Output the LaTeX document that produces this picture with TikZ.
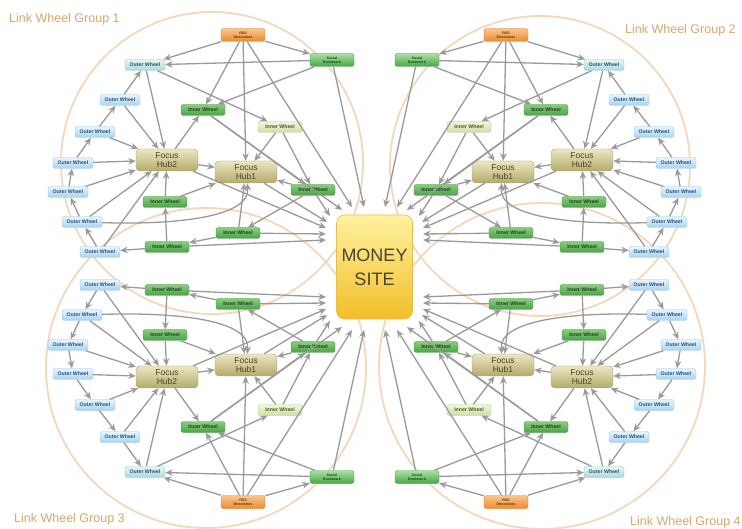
\documentclass[tikz,border=0pt]{standalone}
\usepackage{fontspec}
\setmainfont{Liberation Sans}
\usetikzlibrary{arrows.meta}
\definecolor{arrowgray}{HTML}{9A9A9A}
\definecolor{circColor}{HTML}{F3D8BC}
\definecolor{labelColor}{HTML}{D6A86C}
\definecolor{outerTop}{HTML}{E8F5FD}
\definecolor{outerBot}{HTML}{A6D4F2}
\definecolor{outerLine}{HTML}{9CC8E6}
\definecolor{outerText}{HTML}{2B4F73}
\definecolor{tealTop}{HTML}{E6F7F5}
\definecolor{tealBot}{HTML}{A8DAD8}
\definecolor{tealLine}{HTML}{98C8C8}
\definecolor{innerTop}{HTML}{8ACD7E}
\definecolor{innerBot}{HTML}{4CA248}
\definecolor{innerLine}{HTML}{4A9A48}
\definecolor{innerText}{HTML}{1F3F1F}
\definecolor{ilTop}{HTML}{F0F6DC}
\definecolor{ilBot}{HTML}{CCDFA6}
\definecolor{ilLine}{HTML}{B8CC90}
\definecolor{ilText}{HTML}{4A5A2A}
\definecolor{hubTop}{HTML}{ECE6C2}
\definecolor{hubBot}{HTML}{B3AB6C}
\definecolor{hubLine}{HTML}{A8A068}
\definecolor{hubText}{HTML}{4A4420}
\definecolor{rssTop}{HTML}{FAC68E}
\definecolor{rssBot}{HTML}{EC8A2C}
\definecolor{rssLine}{HTML}{D88030}
\definecolor{rssText}{HTML}{5A3010}
\definecolor{socTop}{HTML}{AAE2A2}
\definecolor{socBot}{HTML}{44A644}
\definecolor{socLine}{HTML}{48A048}
\definecolor{moneyTop}{HTML}{FFF2A0}
\definecolor{moneyBot}{HTML}{F2BE2A}
\definecolor{moneyLine}{HTML}{E6BE52}
\definecolor{moneyText}{HTML}{4A4530}
\tikzset{
  box/.style={rounded corners=2.5pt, inner sep=0.8pt, align=center, line width=0.4pt},
  outerbox/.style={box, top color=outerTop, bottom color=outerBot, draw=outerLine,
    text=outerText, minimum width=40pt, minimum height=11pt,
    font=\fontsize{5.2}{6}\selectfont\bfseries},
  outertop/.style={outerbox, top color=tealTop, bottom color=tealBot, draw=tealLine},
  innerbox/.style={box, top color=innerTop, bottom color=innerBot, draw=innerLine,
    text=innerText, minimum width=44pt, minimum height=11pt,
    font=\fontsize{5.2}{6}\selectfont\bfseries},
  innerlight/.style={innerbox, top color=ilTop, bottom color=ilBot, draw=ilLine, text=ilText},
  hubbox/.style={box, rounded corners=4pt, top color=hubTop, bottom color=hubBot,
    draw=hubLine, text=hubText, minimum width=62pt, minimum height=22pt,
    font=\fontsize{8.5}{8.5}\selectfont},
  rssbox/.style={box, top color=rssTop, bottom color=rssBot, draw=rssLine, text=rssText,
    minimum width=44pt, minimum height=13pt, font=\fontsize{3.6}{4.2}\selectfont\bfseries},
  socialbox/.style={rssbox, top color=socTop, bottom color=socBot, draw=socLine, text=innerText},
  moneybox/.style={rounded corners=8pt, top color=moneyTop, bottom color=moneyBot,
    draw=moneyLine, line width=0.6pt, text=moneyText, align=center,
    minimum width=76pt, minimum height=104pt, font=\fontsize{18}{24}\selectfont},
  link/.style={draw=arrowgray, line width=1.3pt, -{Stealth[length=7.5pt,width=6.5pt]}},
  circ/.style={draw=circColor, line width=1.8pt},
  grouplabel/.style={text=labelColor, inner sep=0pt, font=\fontsize{12.5}{14}\selectfont}
}
\newcommand\lwgroup[1]{%
  \node[rssbox] (#1R) at (243,35) {RSS\\Directories};
  \node[socialbox] (#1S) at (332,60) {Social\\Bookmark};
  \node[outertop] (#1O1) at (145,65) {Outer Wheel};
  \node[outerbox] (#1O2) at (120,100) {Outer Wheel};
  \node[outerbox] (#1O3) at (95,132) {Outer Wheel};
  \node[outerbox] (#1O4) at (73,163) {Outer Wheel};
  \node[outerbox] (#1O5) at (68,192) {Outer Wheel};
  \node[outerbox] (#1O6) at (82,222) {Outer Wheel};
  \node[outerbox] (#1O7) at (100,252) {Outer Wheel};
  \node[innerbox] (#1IA) at (203,110) {Inner Wheel};
  \node[innerlight] (#1IB) at (280,127) {Inner Wheel};
  \node[hubbox] (#1H2) at (167,160) {Focus\\Hub2};
  \node[hubbox] (#1H1) at (246,172) {Focus\\Hub1};
  \node[innerbox] (#1IC) at (313,190) {Inner Wheel};
  \node[innerbox] (#1ID) at (165,202) {Inner Wheel};
  \node[innerbox] (#1IE) at (238,233) {Inner Wheel};
  \node[innerbox] (#1IF) at (167,247) {Inner Wheel};
  \coordinate (#1t1) at (352,207);
  \coordinate (#1t2) at (364,207);
  \coordinate (#1t3) at (342,210);
  \coordinate (#1t4) at (330,216);
  \coordinate (#1t6) at (327,222);
  \coordinate (#1t5) at (326,228);
  \coordinate (#1t7) at (326,234);
  \coordinate (#1t8) at (326,240);
  \draw[link] (#1R) -- (#1O1);
  \draw[link] (#1R) -- (#1S);
  \draw[link] (#1R) -- (#1IA);
  \draw[link] (#1R) -- (#1H1);
  \draw[link] (#1R) -- (#1t1);
  \draw[link] (#1S) -- (#1O1);
  \draw[link] (#1S) -- (#1IA);
  \draw[link] (#1S) -- (#1t2);
  \draw[link] (#1O1) -- (#1IB);
  \draw[link] (#1O1) -- (#1H2);
  \draw[link] (#1O2) -- (#1O1);
  \draw[link] (#1O2) -- (#1H2);
  \draw[link] (#1O3) -- (#1O2);
  \draw[link] (#1O3) -- (#1H2);
  \draw[link] (#1O4) -- (#1O3);
  \draw[link] (#1O4) -- (#1H2);
  \draw[link] (#1O5) -- (#1O4);
  \draw[link] (#1O5) -- (#1H2);
  \draw[link] (#1O6) -- (#1O5);
  \draw[link] (#1O6) -- (#1H2);
  \draw[link] (#1O6) .. controls +(95,3) and +(5,45) .. (#1H1);
  \draw[link] (#1O7) -- (#1O6);
  \draw[link] (#1O7) -- (#1H2);
  \draw[link] (#1IF) -- (#1O7);
  \draw[link] (#1IF) -- (#1ID);
  \draw[link] (#1IF) -- (#1t8);
  \draw[link] (#1ID) -- (#1H2);
  \draw[link] (#1ID) -- (#1H1);
  \draw[link] (#1IE) -- (#1IF);
  \draw[link] (#1IE) -- (#1H1);
  \draw[link] (#1IE) -- (#1t7);
  \draw[link] (#1IC) -- (#1H1);
  \draw[link] (#1IC) -- (#1IE);
  \draw[link] (#1IC) -- (#1t4);
  \draw[link] (#1IA) -- (#1IC);
  \draw[link] (#1IA) -- (#1t3);
  \draw[link] (#1IB) -- (#1IC);
  \draw[link] (#1IB) -- (#1H1);
  \draw[link] (#1H2) -- (#1IA);
  \draw[link] (#1H2) -- (#1H1);
  \draw[link] (#1H2) -- (#1t5);
  \draw[link] (#1H1) -- (#1t6);
}
\begin{document}
\begin{tikzpicture}[x=1pt,y=-1pt]
\useasboundingbox (0,0) rectangle (742,529);
\fill[white] (0,0) rectangle (742,529);
% wheel circles
\draw[circ] (212,163) circle[radius=151];
\draw[circ] (540,166) circle[radius=150];
\draw[circ] (206,368) circle[radius=160];
\draw[circ] (542,366) circle[radius=163];
% money site
\node[moneybox] (M) at (374.5,267) {MONEY\\SITE};
% groups
\begin{scope}
  \lwgroup{ga}
\end{scope}
\begin{scope}[xshift=749pt, xscale=-1]
  \lwgroup{gb}
\end{scope}
\begin{scope}[yshift=-537pt, yscale=-1]
  \lwgroup{gc}
\end{scope}
\begin{scope}[xshift=749pt, yshift=-537pt, xscale=-1, yscale=-1]
  \lwgroup{gd}
\end{scope}
% labels
\node[grouplabel, anchor=west] (lab1) at (9,19) {Link Wheel Group 1};
\node[grouplabel, anchor=west] (lab2) at (625,30) {Link Wheel Group 2};
\node[grouplabel, anchor=west] (lab3) at (14,519) {Link Wheel Group 3};
\node[grouplabel, anchor=west] (lab4) at (630,522) {Link Wheel Group 4};
\end{tikzpicture}
\end{document}
